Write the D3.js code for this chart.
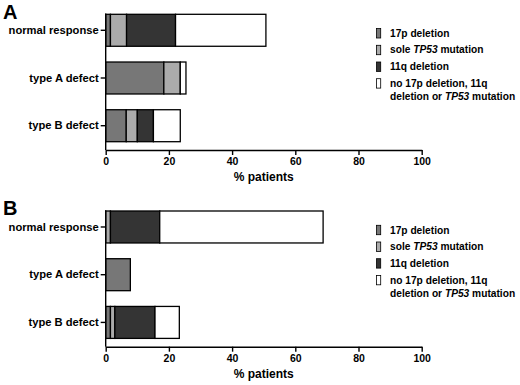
<!DOCTYPE html>
<html lang="en">
<head>
<meta charset="UTF-8">
<title>Genetic defects by response type</title>
<style>
  body { margin: 0; background: #fff; }
  text { font-family: "Liberation Sans", Arial, Helvetica, sans-serif; font-weight: bold; }
</style>
</head>
<body>
<svg width="520" height="385"></svg>
<script src="https://cdn.jsdelivr.net/npm/d3@7/dist/d3.min.js"></script>
<script>
// response groups (rows) and the defect categories stacked in each bar
var categories = ["normal response", "type A defect", "type B defect"];
var seriesKeys = ["del17p", "tp53", "del11q", "none"];
var seriesColors = ["#777777", "#ababab", "#343434", "#ffffff"];
var xTicks = [0, 20, 40, 60, 80, 100];

// % patients
var panelA17p  = [1.5, 18.4, 6.5];
var panelATP53 = [5.1, 5.2, 3.5];
var panelA11q  = [15.5, 0, 5.1];
var panelANone = [28.6, 1.8, 8.5];

var panelB17p  = [0, 7.8, 1.5];
var panelBTP53 = [1.5, 0, 1.4];
var panelB11q  = [15.6, 0, 12.7];
var panelBNone = [51.7, 0, 7.7];

var svg = d3.select("svg");

var x = d3.scaleLinear().domain([0, 100]).range([105.7, 421.7]);

function buildRows(s17p, sTP53, s11q, sNone) {
  return categories.map(function(c, i) {
    return { cat: c, del17p: s17p[i], tp53: sTP53[i], del11q: s11q[i], none: sNone[i] };
  });
}

function drawPanel(letter, rows, top) {
  var g = svg.append("g").attr("transform", "translate(0," + top + ")");

  var y = d3.scaleBand()
      .domain(categories)
      .range([14.3, 141.7])
      .paddingInner(0.33)
      .paddingOuter(0);

  var stacked = d3.stack().keys(seriesKeys)(rows);

  stacked.forEach(function(layer, k) {
    g.selectAll(null)
      .data(layer.filter(function(d) { return d[1] - d[0] > 0; }))
      .enter()
      .append("rect")
      .attr("x", function(d) { return x(d[0]); })
      .attr("y", function(d) { return y(d.data.cat); })
      .attr("width", function(d) { return x(d[1]) - x(d[0]); })
      .attr("height", y.bandwidth())
      .attr("fill", seriesColors[k])
      .attr("stroke", "#000")
      .attr("stroke-width", 1.3);
  });

  // y axis
  var yAxis = g.append("g")
      .attr("transform", "translate(" + x(0) + ",0)")
      .call(d3.axisLeft(y).tickSize(5).tickPadding(2));
  yAxis.select(".domain").remove();
  yAxis.selectAll(".tick line").attr("stroke-width", 1.4);
  yAxis.selectAll(".tick text").attr("font-size", 11.2).attr("fill", "#000");

  g.append("line")
      .attr("x1", x(0)).attr("x2", x(0))
      .attr("y1", 13.5).attr("y2", 150)
      .attr("stroke", "#000").attr("stroke-width", 1.4);

  // x axis
  var xAxis = g.append("g")
      .attr("transform", "translate(0,150)")
      .call(d3.axisBottom(x).tickValues(xTicks).tickSize(5).tickSizeOuter(0).tickPadding(3));
  xAxis.select(".domain").attr("stroke-width", 1.4);
  xAxis.selectAll(".tick line").attr("stroke-width", 1.4);
  xAxis.selectAll(".tick text").attr("font-size", 10.5).attr("fill", "#000");

  g.append("text")
      .attr("x", x(50))
      .attr("y", 181)
      .attr("text-anchor", "middle")
      .attr("font-size", 12)
      .text("% patients");

  // panel letter
  g.append("text")
      .attr("x", 3)
      .attr("y", 18.5)
      .attr("font-size", 20)
      .text(letter);

  // legend
  var legendItems = [
    { lines: [["17p deletion"]] },
    { lines: [["sole ", "TP53", " mutation"]] },
    { lines: [["11q deletion"]] },
    { lines: [["no 17p deletion, 11q"], ["deletion or ", "TP53", " mutation"]] }
  ];
  var lg = g.append("g").attr("transform", "translate(376.5,33.3)");
  legendItems.forEach(function(item, i) {
    var cy = i * 16.7;
    lg.append("rect")
      .attr("x", 0)
      .attr("y", cy - 4.7)
      .attr("width", 4.2)
      .attr("height", 9.4)
      .attr("fill", seriesColors[i])
      .attr("stroke", "#000")
      .attr("stroke-width", 0.8);
    item.lines.forEach(function(parts, j) {
      var t = lg.append("text")
        .attr("x", 13.5)
        .attr("y", cy + 3.5 + j * 13.3)
        .attr("font-size", 10.2);
      parts.forEach(function(p) {
        t.append("tspan")
          .attr("font-style", p === "TP53" ? "italic" : "normal")
          .text(p);
      });
    });
  });
}

drawPanel("A", buildRows(panelA17p, panelATP53, panelA11q, panelANone), 0);
drawPanel("B", buildRows(panelB17p, panelBTP53, panelB11q, panelBNone), 196.7);
</script>
</body>
</html>
